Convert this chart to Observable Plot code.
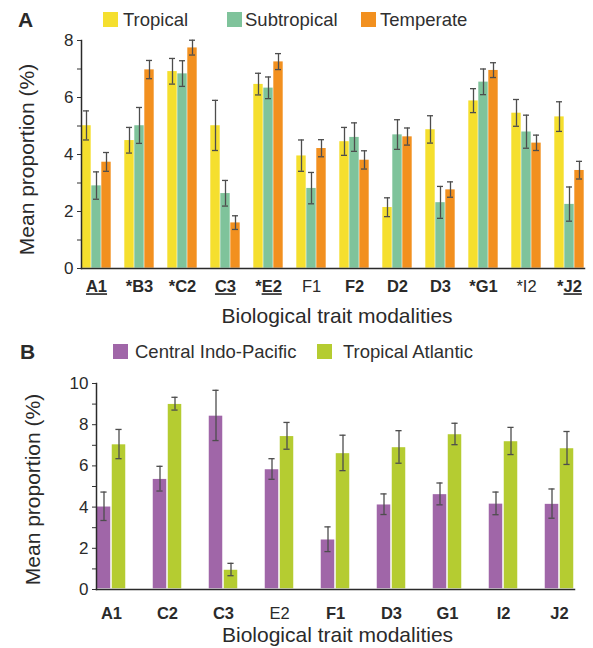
<!DOCTYPE html>
<html><head><meta charset="utf-8">
<script src="https://cdn.jsdelivr.net/npm/d3@7"></script>
<script src="https://cdn.jsdelivr.net/npm/@observablehq/plot@0.6"></script>
<style>
body{margin:0;background:#fff;font-family:"Liberation Sans",Arial,sans-serif;color:#2a2a2a;}
#wrap{width:593px;}
.hdr{position:relative;width:593px;}
.letter{position:absolute;font-weight:bold;font-size:21px;line-height:1;}
.sw{position:absolute;width:15px;height:15px;}
.lt{position:absolute;font-size:18.5px;line-height:1;white-space:nowrap;color:#2f2f2f;}
svg{display:block}
</style></head><body>
<div id="wrap"></div>
<script>
// ---------- Panel A data ----------
const catA = ["A1","*B3","*C2","C3","*E2","F1","F2","D2","D3","*G1","*I2","*J2"];
const boldA = [1,1,1,1,1,0,1,1,1,1,0,1];
const underlineA = ["A1","","","C3","E2","","","","","","","J2"];
const seriesA = ["Tropical","Subtropical","Temperate"];
const colorsA = ["#f5df2e","#7fc39b","#f2901f"];
const tropical    = [5.02,4.50,6.92,5.02,6.47,3.96,4.46,2.15,4.88,5.89,5.46,5.33];
const tropicalErr = [0.51,0.45,0.45,0.88,0.38,0.55,0.49,0.33,0.48,0.42,0.47,0.52];
const subtropical    = [2.91,5.02,6.84,2.64,6.34,2.82,4.61,4.70,2.32,6.55,4.80,2.26];
const subtropicalErr = [0.48,0.63,0.45,0.45,0.38,0.55,0.50,0.52,0.56,0.45,0.58,0.60];
const temperate    = [3.74,6.98,7.75,1.61,7.26,4.22,3.81,4.63,2.77,6.96,4.41,3.45];
const temperateErr = [0.33,0.32,0.26,0.24,0.28,0.30,0.32,0.30,0.27,0.26,0.27,0.31];
const yTicksA = [0,1,2,3,4,5,6,7,8];

// ---------- Panel B data ----------
const catB = ["A1","C2","C3","E2","F1","D3","G1","I2","J2"];
const boldB = [1,1,1,0,1,1,1,1,1];
const underlineB = ["","","","","","","","",""];
const seriesB = ["Central Indo-Pacific","Tropical Atlantic"];
const colorsB = ["#a066a8","#b5cc31"];
const centralIndoPacific    = [4.04,5.38,8.45,5.85,2.44,4.14,4.64,4.18,4.17];
const centralIndoPacificErr = [0.69,0.60,1.22,0.50,0.60,0.50,0.53,0.55,0.71];
const tropicalAtlantic    = [7.06,9.02,0.97,7.46,6.63,6.92,7.55,7.21,6.87];
const tropicalAtlanticErr = [0.71,0.31,0.30,0.65,0.86,0.79,0.52,0.66,0.80];
const yTicksB = [0,1,2,3,4,5,6,7,8,9,10];

const xTitle = "Biological trait modalities";
const yTitle = "Mean proportion (%)";

function makeRows(cats, series, vals, errs) {
  const rows = [];
  cats.forEach((c, i) => series.forEach((s, j) => rows.push({cat: c, series: s, value: vals[j][i], err: errs[j][i]})));
  return rows;
}
const rowsA = makeRows(catA, seriesA, [tropical, subtropical, temperate], [tropicalErr, subtropicalErr, temperateErr]);
const rowsB = makeRows(catB, seriesB, [centralIndoPacific, tropicalAtlantic], [centralIndoPacificErr, tropicalAtlanticErr]);

function header(letter, letterPos, series, colors, items, height) {
  const h = document.createElement("div");
  h.className = "hdr"; h.style.height = height + "px";
  const l = document.createElement("div");
  l.className = "letter"; l.textContent = letter;
  l.style.left = letterPos[0] + "px"; l.style.top = letterPos[1] + "px";
  h.appendChild(l);
  series.forEach((s, i) => {
    const it = items[i];
    const sw = document.createElement("div");
    sw.className = "sw"; sw.style.background = colors[i];
    sw.style.left = it[0] + "px"; sw.style.top = it[1] + "px";
    const t = document.createElement("div");
    t.className = "lt"; t.textContent = s;
    t.style.left = it[2] + "px"; t.style.top = it[3] + "px";
    h.appendChild(sw); h.appendChild(t);
  });
  return h;
}

function chart(o) {
  const p = Plot.plot({
    width: 593, height: o.height,
    marginTop: o.mt, marginBottom: o.mb, marginLeft: o.ml, marginRight: o.mr,
    style: {fontFamily: '"Liberation Sans", Arial, sans-serif', color: "#2a2a2a", background: "white", overflow: "visible"},
    fx: {domain: o.cats, paddingInner: o.pi, paddingOuter: o.po, label: null},
    x: {domain: o.series, padding: 0, axis: null},
    y: {domain: o.ydomain, label: null},
    color: {domain: o.series, range: o.colors},
    marks: [
      Plot.barY(o.rows, {fx: "cat", x: "series", y: "value", fill: "series", inset: o.inset}),
      Plot.ruleX(o.rows, {fx: "cat", x: "series", y1: d => d.value - d.err, y2: d => d.value + d.err, stroke: "#4d4d4d", strokeWidth: 1.3}),
      Plot.tickY(o.rows, {fx: "cat", x: "series", y: d => d.value - d.err, insetLeft: o.cap, insetRight: o.cap, stroke: "#4d4d4d", strokeWidth: 1.3}),
      Plot.tickY(o.rows, {fx: "cat", x: "series", y: d => d.value + d.err, insetLeft: o.cap, insetRight: o.cap, stroke: "#4d4d4d", strokeWidth: 1.3}),
      Plot.axisFx({anchor: "bottom", tickSize: 0, tickPadding: o.tp, fontSize: 16.5, label: null}),
      Plot.axisY({ticks: o.yticks, tickFormat: d => d % 2 ? "" : d, tickSize: 4, tickPadding: 4, fontSize: 17, label: null, stroke: "#333"}),
      Plot.frame({anchor: "bottom", facet: "super", stroke: "#2a2a2a", strokeWidth: 1.5}),
      Plot.frame({anchor: "left", facet: "super", stroke: "#2a2a2a", strokeWidth: 1.5}),
      Plot.text([xTitle], {facet: "super", frameAnchor: "bottom", lineAnchor: "middle", textAnchor: "middle", dx: o.xtdx, dy: o.xtdy, fontSize: 21, fill: "#2a2a2a"}),
      Plot.text([yTitle], {facet: "super", frameAnchor: "left", lineAnchor: "middle", textAnchor: "middle", rotate: -90, dx: o.ytdx, dy: o.ytdy, fontSize: 21, fill: "#2a2a2a"})
    ]
  });
  // tick label styling: bold / underline
  p.querySelectorAll('g[aria-label="fx-axis tick label"] text').forEach(t => {
    const lab = t.textContent;
    const i = o.cats.indexOf(lab);
    if (i < 0) return;
    t.setAttribute("font-weight", o.bold[i] ? "bold" : "normal");
    const u = o.underline[i];
    if (u) {
      const k = lab.indexOf(u);
      while (t.firstChild) t.removeChild(t.firstChild);
      const ns = "http://www.w3.org/2000/svg";
      if (k > 0) { const a = document.createElementNS(ns, "tspan"); a.textContent = lab.slice(0, k); t.appendChild(a); }
      const b = document.createElementNS(ns, "tspan"); b.textContent = u; b.setAttribute("style", "text-decoration: underline"); t.appendChild(b);
      if (k + u.length < lab.length) { const c = document.createElementNS(ns, "tspan"); c.textContent = lab.slice(k + u.length); t.appendChild(c); }
    }
  });
  return p;
}

const wrap = document.getElementById("wrap");
wrap.appendChild(header("A", [18, 9], seriesA, colorsA, [[103,12,123,11.2],[227,12,245,11.2],[361,12,380,11.2]], 32));
wrap.appendChild(chart({
  height: 296, mt: 8, mb: 60, ml: 72, mr: 0, cats: catA, bold: boldA, underline: underlineA,
  series: seriesA, colors: colorsA, rows: rowsA, ydomain: [0, 8], yticks: yTicksA,
  pi: 0.31, po: 0.161, inset: 0.3, cap: 2, tp: 12, xtdx: 4, xtdy: 48, ytdx: -54, ytdy: 5
}));
wrap.appendChild(header("B", [20, 13], seriesB, colorsB, [[113,16,135,15.2],[317,16,343,15.2]], 44));
wrap.appendChild(chart({
  height: 276, mt: 11, mb: 59, ml: 82, mr: 5, cats: catB, bold: boldB, underline: underlineB,
  series: seriesB, colors: colorsB, rows: rowsB, ydomain: [0, 10], yticks: yTicksB,
  pi: 0.47, po: 0.25, inset: 0.75, cap: 4.4, tp: 18, xtdx: 2, xtdy: 46, ytdx: -63, ytdy: 3
}));
</script>
</body></html>
